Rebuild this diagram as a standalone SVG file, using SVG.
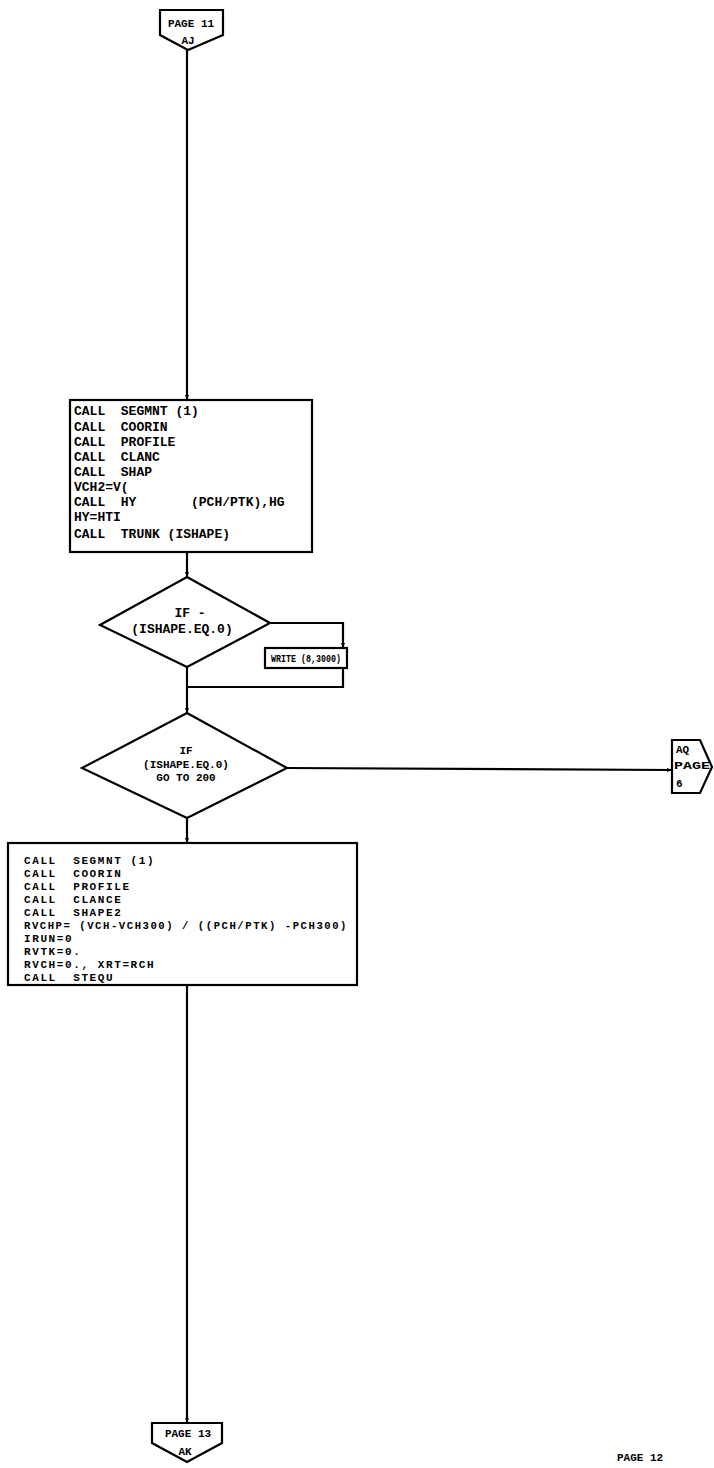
<svg xmlns="http://www.w3.org/2000/svg" width="714" height="1468" viewBox="0 0 714 1468">
<style>
.s{fill:none;stroke:#000;stroke-width:2.2;stroke-linejoin:miter}
.w{fill:#fff;stroke:#000;stroke-width:2.2}
.t{font-family:"Liberation Mono","DejaVu Sans Mono",monospace;font-weight:bold;font-size:13px;fill:#000;white-space:pre}
.c{text-anchor:middle}
.sm{font-size:11px}
.b2{font-size:11px;letter-spacing:1.6px}
</style>
<defs>
<marker id="ah" viewBox="0 0 10 10" refX="10" refY="5" markerWidth="5" markerHeight="5" orient="auto" markerUnits="userSpaceOnUse">
<path d="M0,1 L10,5 L0,9 Z" fill="#000"/>
</marker>
</defs>
<rect width="714" height="1468" fill="#fff"/>

<g id="connectors">
<path class="s" d="M187,50 V400" marker-end="url(#ah)"/>
<path class="s" d="M187,552 V577" marker-end="url(#ah)"/>
<path class="s" d="M270,623 H343 V648" marker-end="url(#ah)"/>
<path class="s" d="M343,668 V687 H187"/>
<path class="s" d="M187,667 V713" marker-end="url(#ah)"/>
<path class="s" d="M287,768 L672,770" marker-end="url(#ah)"/>
<path class="s" d="M187,818 V843" marker-end="url(#ah)"/>
<path class="s" d="M187,985 V1423" marker-end="url(#ah)"/>
</g>

<g id="page11">
<path class="w" d="M160,10 H223 V35 L188,50 L160,35 Z"/>
<text class="t c sm" x="191" y="27">PAGE 11</text>
<text class="t c sm" x="188" y="44">AJ</text>
</g>

<g id="box1">
<rect class="w" x="70" y="400" width="242" height="152"/>
<text class="t" x="74" y="415">CALL  SEGMNT (1)</text>
<text class="t" x="74" y="431">CALL  COORIN</text>
<text class="t" x="74" y="446">CALL  PROFILE</text>
<text class="t" x="74" y="461">CALL  CLANC</text>
<text class="t" x="74" y="476">CALL  SHAP</text>
<text class="t" x="74" y="491">VCH2=V(</text>
<text class="t" x="74" y="506">CALL  HY       (PCH/PTK),HG</text>
<text class="t" x="74" y="521">HY=HTI</text>
<text class="t" x="74" y="538">CALL  TRUNK (ISHAPE)</text>
</g>

<g id="dec1">
<path class="w" d="M187,577 L270,623 L187,667 L100,625 Z"/>
<text class="t c" x="190" y="617">IF -</text>
<text class="t c" x="182" y="633">(ISHAPE.EQ.0)</text>
</g>

<g id="write">
<rect class="w" x="265" y="648" width="82" height="20"/>
<text class="t sm" x="271" y="662" textLength="70" lengthAdjust="spacingAndGlyphs">WRITE (8,3000)</text>
</g>

<g id="dec2">
<path class="w" d="M187,713 L287,768 L187,818 L82,768 Z"/>
<text class="t c sm" x="186" y="754">IF</text>
<text class="t c sm" x="186" y="768">(ISHAPE.EQ.0)</text>
<text class="t c sm" x="186" y="781">GO TO 200</text>
</g>

<g id="page6">
<path class="w" d="M672,740 H700 L712,767 L700,793 H672 Z"/>
<text class="t sm" x="676" y="753">AQ</text>
<text class="t sm" x="674" y="769" textLength="36" lengthAdjust="spacingAndGlyphs">PAGE</text>
<text class="t sm" x="676" y="787">6</text>
</g>

<g id="box2">
<rect class="w" x="8" y="843" width="349" height="142"/>
<text class="t b2" x="24" y="864">CALL  SEGMNT (1)</text>
<text class="t b2" x="24" y="877">CALL  COORIN</text>
<text class="t b2" x="24" y="890">CALL  PROFILE</text>
<text class="t b2" x="24" y="903">CALL  CLANCE</text>
<text class="t b2" x="24" y="916">CALL  SHAPE2</text>
<text class="t b2" x="24" y="929" textLength="324" lengthAdjust="spacingAndGlyphs">RVCHP= (VCH-VCH300) / ((PCH/PTK) -PCH300)</text>
<text class="t b2" x="24" y="942">IRUN=0</text>
<text class="t b2" x="24" y="955">RVTK=0.</text>
<text class="t b2" x="24" y="968">RVCH=0., XRT=RCH</text>
<text class="t b2" x="24" y="981">CALL  STEQU</text>
</g>

<g id="page13">
<path class="w" d="M152,1423 H222 V1443 L187,1462 L152,1443 Z"/>
<text class="t c sm" x="188" y="1437">PAGE 13</text>
<text class="t c sm" x="185" y="1455">AK</text>
</g>

<g id="footer">
<text class="t sm" x="617" y="1461">PAGE 12</text>
</g>
</svg>
